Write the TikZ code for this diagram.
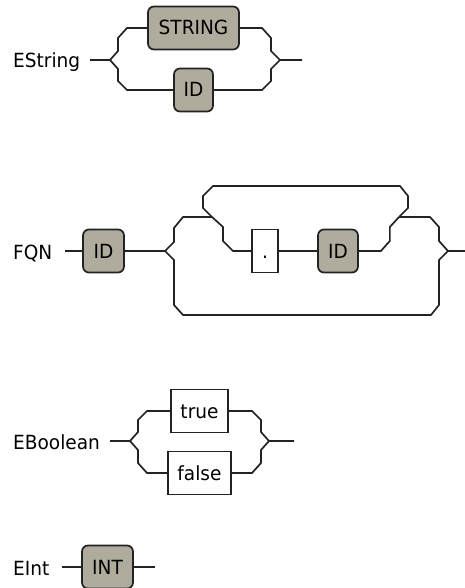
\documentclass[tikz,border=0pt]{standalone}
\usepackage{fontspec}
\setmainfont{DejaVu Sans}[FakeStretch=0.95]
\definecolor{termfill}{RGB}{175,171,157}
\definecolor{railcol}{RGB}{35,35,35}
\newcommand{\lblfont}{\fontsize{19.5}{22}\selectfont}
\tikzset{
  rail/.style={line width=1.7pt, draw=railcol, line join=miter},
  termbox/.style={draw=railcol, fill=termfill, rounded corners=6pt, line width=1.7pt,
    minimum height=43pt, inner sep=0pt, text height=14pt, text depth=0pt, font=\lblfont, text=black},
  kwbox/.style={draw=railcol, fill=white, line width=1.7pt,
    minimum height=43pt, inner sep=0pt, text height=14pt, text depth=0pt, font=\lblfont, text=black},
  rulelbl/.style={anchor=base west, inner sep=0pt, font=\lblfont, text=black}
}
\begin{document}
\begin{tikzpicture}[x=1pt,y=-1pt]
\useasboundingbox (0,0) rectangle (464,588);
% ---------------- EString ----------------
\node[rulelbl] (esl) at (13,68) {EString};
\coordinate (es0) at (90,60);
\coordinate (esL) at (110,60);
\coordinate (esR) at (280,60);
\coordinate (esE) at (302,60);
\node[termbox, minimum width=91pt] (estr) at (193.5,28) {STRING};
\node[termbox, minimum width=39pt] (esid) at (193.5,90) {ID};
\draw[rail] (es0) -- (esL) -- ++(8,-9) -- ++(0,-13) -- ++(9,-10) -- (estr.west);
\draw[rail] (esL) -- ++(8,9) -- ++(0,12) -- ++(9,9) -- (esid.west);
\draw[rail] (esE) -- (esR) -- ++(-9,-9) -- ++(0,-13) -- ++(-9,-10) -- (estr.east);
\draw[rail] (esR) -- ++(-9,9) -- ++(0,12) -- ++(-9,9) -- (esid.east);
% ---------------- FQN ----------------
\node[rulelbl] (fql) at (13,259) {FQN};
\coordinate (fq0) at (65,251);
\coordinate (fqL) at (165,251);
\coordinate (fqJ1) at (212,217);
\coordinate (fqJ2) at (399,217);
\coordinate (fqR) at (448,251);
\coordinate (fqE) at (466,251);
\node[termbox, minimum width=41pt] (fqid) at (103.5,251) {ID};
\node[kwbox, minimum width=26pt] (fqdot) at (265,251) {.};
\node[termbox, minimum width=40pt] (fqid2) at (338,251) {ID};
\draw[rail] (fq0) -- (fqid.west);
\draw[rail] (fqid.east) -- (fqL);
\draw[rail] (fqL) -- ++(9,-9) -- ++(0,-14) -- ++(9,-11) -- (fqJ1);
\draw[rail] (fqJ1) -- ++(-9,-9) -- ++(0,-12) -- ++(10,-10) -- ++(187,0) -- ++(8,10) -- ++(0,12) -- (fqJ2);
\draw[rail] (fqJ1) -- ++(11,10) -- ++(0,14) -- ++(10,10) -- (fqdot.west);
\draw[rail] (fqdot.east) -- (fqid2.west);
\draw[rail] (fqid2.east) -- ++(22,0) -- ++(9,-10) -- ++(0,-14) -- (fqJ2);
\draw[rail] (fqJ2) -- ++(31,0) -- ++(9,10) -- ++(0,14) -- (fqR) -- (fqE);
\draw[rail] (fqL) -- ++(9,9) -- ++(0,45) -- ++(9,10) -- ++(248,0) -- ++(8,-10) -- ++(0,-45) -- (fqR);
% ---------------- EBoolean ----------------
\node[rulelbl] (ebl) at (13,449) {EBoolean};
\coordinate (eb0) at (110,441);
\coordinate (ebL) at (130,441);
\coordinate (ebR) at (269,441);
\coordinate (ebE) at (294,441);
\node[kwbox, minimum width=57pt] (ebt) at (199.5,411) {true};
\node[kwbox, minimum width=63pt] (ebf) at (199.5,473) {false};
\draw[rail] (eb0) -- (ebL) -- ++(8,-9) -- ++(0,-12) -- ++(9,-9) -- (ebt.west);
\draw[rail] (ebL) -- ++(8,9) -- ++(0,13) -- ++(9,10) -- (ebf.west);
\draw[rail] (ebE) -- (ebR) -- ++(-8,-9) -- ++(0,-12) -- ++(-9,-9) -- (ebt.east);
\draw[rail] (ebR) -- ++(-8,9) -- ++(0,13) -- ++(-9,10) -- (ebf.east);
% ---------------- EInt ----------------
\node[rulelbl] (eil) at (13,575) {EInt};
\coordinate (ei0) at (62,567);
\coordinate (eiE) at (155,567);
\node[termbox, minimum width=51pt] (eiint) at (107.5,567) {INT};
\draw[rail] (ei0) -- (eiint.west);
\draw[rail] (eiint.east) -- (eiE);
\end{tikzpicture}
\end{document}
